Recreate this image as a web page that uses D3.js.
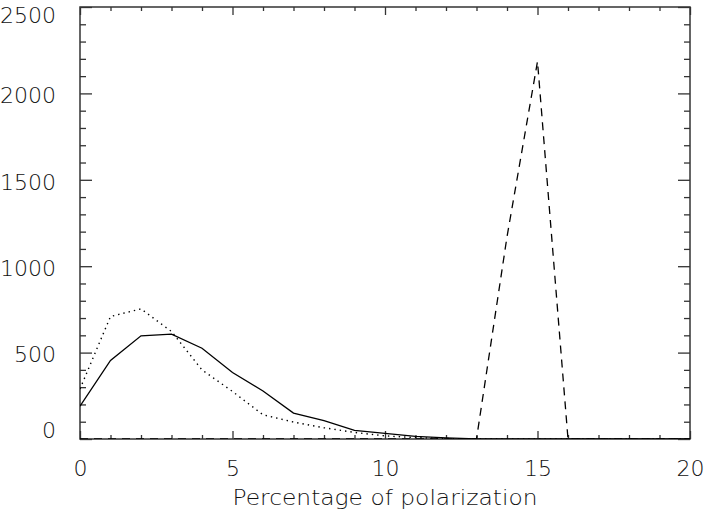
<!DOCTYPE html>
<html>
<head>
<meta charset="utf-8">
<script src="https://cdn.jsdelivr.net/npm/d3@7"></script>
<style>
  html, body { margin: 0; padding: 0; background: #fff; }
  svg text { font-family: "DejaVu Sans", sans-serif; fill: #111; font-weight: 200; }
</style>
</head>
<body>
<svg id="chart" width="707" height="512"></svg>
<script>
// ---- data ----
const xValues      = [0,1,2,3,4,5,6,7,8,9,10,11,12,13,14,15,16,17,18,19,20];
const solidSeries  = [190,455,597,607,525,385,278,150,106,50,32,15,7,1,0,0,0,0,0,0,0];
const dottedSeries = [290,709,753,622,400,275,140,98,65,38,18,8,3,0,0,0,0,0,0,0,0];
const dashedSeries = [0,0,0,0,0,0,0,0,0,0,0,0,0,0,1170,2185,0,0,0,0,0];
const xMajorTicks  = [0,5,10,15,20];
const yMajorTicks  = [0,500,1000,1500,2000,2500];
const xLabel = "Percentage of polarization";

// ---- layout ----
const svg = d3.select("#chart");
const L = 80, R = 690, T = 7, B = 439;
const x = d3.scaleLinear().domain([0,20]).range([L,R]);
const y = d3.scaleLinear().domain([0,2500]).range([B,T]);

const axisColor = "#333";
const xMinor = d3.range(0,21,1).filter(v => !xMajorTicks.includes(v));
const yMinor = d3.range(0,2501,100).filter(v => !yMajorTicks.includes(v));

function styleAxis(g){
  g.select(".domain").remove();
  g.selectAll("line").attr("stroke", axisColor).attr("stroke-width", 1.3);
}
function styleText(g){
  g.selectAll("text").attr("font-size", 22).attr("font-family","DejaVu Sans")
    .attr("fill","#111").attr("font-weight",200);
}

// bottom axis (ticks inward)
svg.append("g").attr("transform",`translate(0,${B})`)
  .call(d3.axisBottom(x).tickValues(xMajorTicks).tickSize(-8).tickPadding(21).tickFormat(d3.format("d")))
  .call(styleAxis).call(styleText);
svg.append("g").attr("transform",`translate(0,${B})`)
  .call(d3.axisBottom(x).tickValues(xMinor).tickSize(-4).tickFormat(""))
  .call(styleAxis);
// top axis
svg.append("g").attr("transform",`translate(0,${T})`)
  .call(d3.axisTop(x).tickValues(xMajorTicks).tickSize(-8).tickFormat(""))
  .call(styleAxis);
svg.append("g").attr("transform",`translate(0,${T})`)
  .call(d3.axisTop(x).tickValues(xMinor).tickSize(-4).tickFormat(""))
  .call(styleAxis);
// left axis
svg.append("g").attr("transform",`translate(${L},0)`)
  .call(d3.axisLeft(y).tickValues(yMajorTicks).tickSize(-12).tickPadding(24).tickFormat(d3.format("d")))
  .call(styleAxis).call(styleText)
  .call(g => g.selectAll(".tick text").attr("dy", d => d === 0 ? "-0.05em" : d === 2500 ? "0.72em" : "0.42em"));
svg.append("g").attr("transform",`translate(${L},0)`)
  .call(d3.axisLeft(y).tickValues(yMinor).tickSize(-6).tickFormat(""))
  .call(styleAxis);
// right axis
svg.append("g").attr("transform",`translate(${R},0)`)
  .call(d3.axisRight(y).tickValues(yMajorTicks).tickSize(-12).tickFormat(""))
  .call(styleAxis);
svg.append("g").attr("transform",`translate(${R},0)`)
  .call(d3.axisRight(y).tickValues(yMinor).tickSize(-6).tickFormat(""))
  .call(styleAxis);

// frame
svg.append("rect").attr("x",L).attr("y",T).attr("width",R-L).attr("height",B-T)
  .attr("fill","none").attr("stroke",axisColor).attr("stroke-width",1.5);

// ---- lines ----
const line = d3.line().x((d,i) => x(xValues[i])).y(d => y(d));
svg.append("clipPath").attr("id","plotclip").append("rect")
  .attr("x",L).attr("y",T).attr("width",R-L).attr("height",B-T);
const lines = svg.append("g").attr("clip-path","url(#plotclip)");
lines.append("path").datum(solidSeries).attr("d",line)
  .attr("fill","none").attr("stroke","#000").attr("stroke-width",1.3);
lines.append("path").datum(dottedSeries).attr("d",line)
  .attr("fill","none").attr("stroke","#000").attr("stroke-width",1.4).attr("stroke-dasharray","1.4,4");
lines.append("path").datum(dashedSeries).attr("d",line)
  .attr("fill","none").attr("stroke","#000").attr("stroke-width",1.3).attr("stroke-dasharray","8,6");

// ---- axis title ----
svg.append("text").attr("x",(L+R)/2).attr("y",505).attr("text-anchor","middle")
  .attr("font-size",21).attr("textLength",305).attr("lengthAdjust","spacingAndGlyphs")
  .text(xLabel);
</script>
</body>
</html>
